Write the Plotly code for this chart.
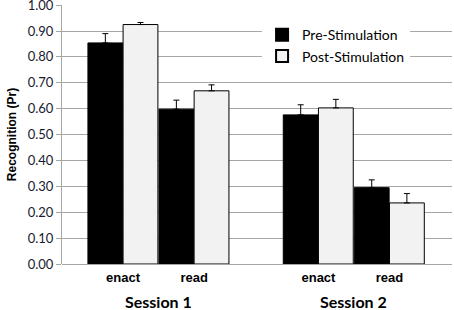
import plotly.graph_objects as go

tick_labels = ["enact", "read", "enact", "read"]
x_pos = [0, 1, 2.75, 3.75]
pre_vals = [0.854, 0.598, 0.576, 0.295]
pre_err = [0.036, 0.035, 0.039, 0.030]
post_vals = [0.925, 0.669, 0.603, 0.236]
post_err = [0.008, 0.023, 0.033, 0.036]
sessions = ["Session 1", "Session 2"]
session_pos = [0.5, 3.25]
y_ticks = [0.0, 0.1, 0.2, 0.3, 0.4, 0.5, 0.6, 0.7, 0.8, 0.9, 1.0]

fig = go.Figure()
fig.add_trace(go.Bar(
    x=x_pos, y=pre_vals, name="Pre-Stimulation",
    offset=-0.495, width=0.49,
    marker=dict(color="black", line=dict(color="black", width=1)),
    error_y=dict(type="data", symmetric=False, array=pre_err, arrayminus=[0]*4,
                 color="black", thickness=1, width=3),
))
fig.add_trace(go.Bar(
    x=x_pos, y=post_vals, name="Post-Stimulation",
    offset=0.0, width=0.49,
    marker=dict(color="#f2f2f2", line=dict(color="black", width=1)),
    error_y=dict(type="data", symmetric=False, array=post_err, arrayminus=[0]*4,
                 color="black", thickness=1, width=3),
))

for s, p in zip(sessions, session_pos):
    fig.add_annotation(x=p, y=0, xref="x", yref="paper", text="<b>%s</b>" % s,
                       showarrow=False, yanchor="middle", yshift=-37,
                       font=dict(family="Lato", size=16, color="black"))

fig.update_layout(
    width=454, height=310,
    margin=dict(l=62, r=2, t=5, b=46, autoexpand=False),
    plot_bgcolor="white", paper_bgcolor="white",
    barmode="overlay",
    showlegend=True,
    legend=dict(x=0.513, y=0.945, xanchor="left", yanchor="top",
                bgcolor="white", font=dict(family="Lato", size=14, color="black"),
                itemsizing="constant", tracegroupgap=0),
    xaxis=dict(range=[-0.86, 4.63], tickvals=x_pos, automargin=False,
               ticktext=["<b>%s</b>" % t for t in tick_labels],
               ticklabelstandoff=4,
               tickfont=dict(family="Liberation Sans Narrow, Liberation Sans", size=13, color="black"),
               showgrid=False, zeroline=False, showline=False, ticks=""),
    yaxis=dict(range=[0, 1.0005], tickvals=y_ticks, automargin=False,
               ticklabeloverflow="allow",
               ticktext=["%.2f" % v for v in y_ticks],
               tickfont=dict(family="Lato", size=13, color="#1a1a2e"),
               showgrid=True, gridcolor="#a6a6a6", gridwidth=1,
               showline=True, linecolor="#a6a6a6", linewidth=1,
               ticks="outside", ticklen=5, tickcolor="#a6a6a6",
               zeroline=True, zerolinecolor="#a6a6a6", zerolinewidth=1,
               title=dict(text="<b>Recognition (Pr)</b>", standoff=8,
                          font=dict(family="Liberation Sans", size=12, color="black"))),
)

fig.write_html("out.html", config={"displayModeBar": False},
               post_script="document.body.style.margin='0';")
